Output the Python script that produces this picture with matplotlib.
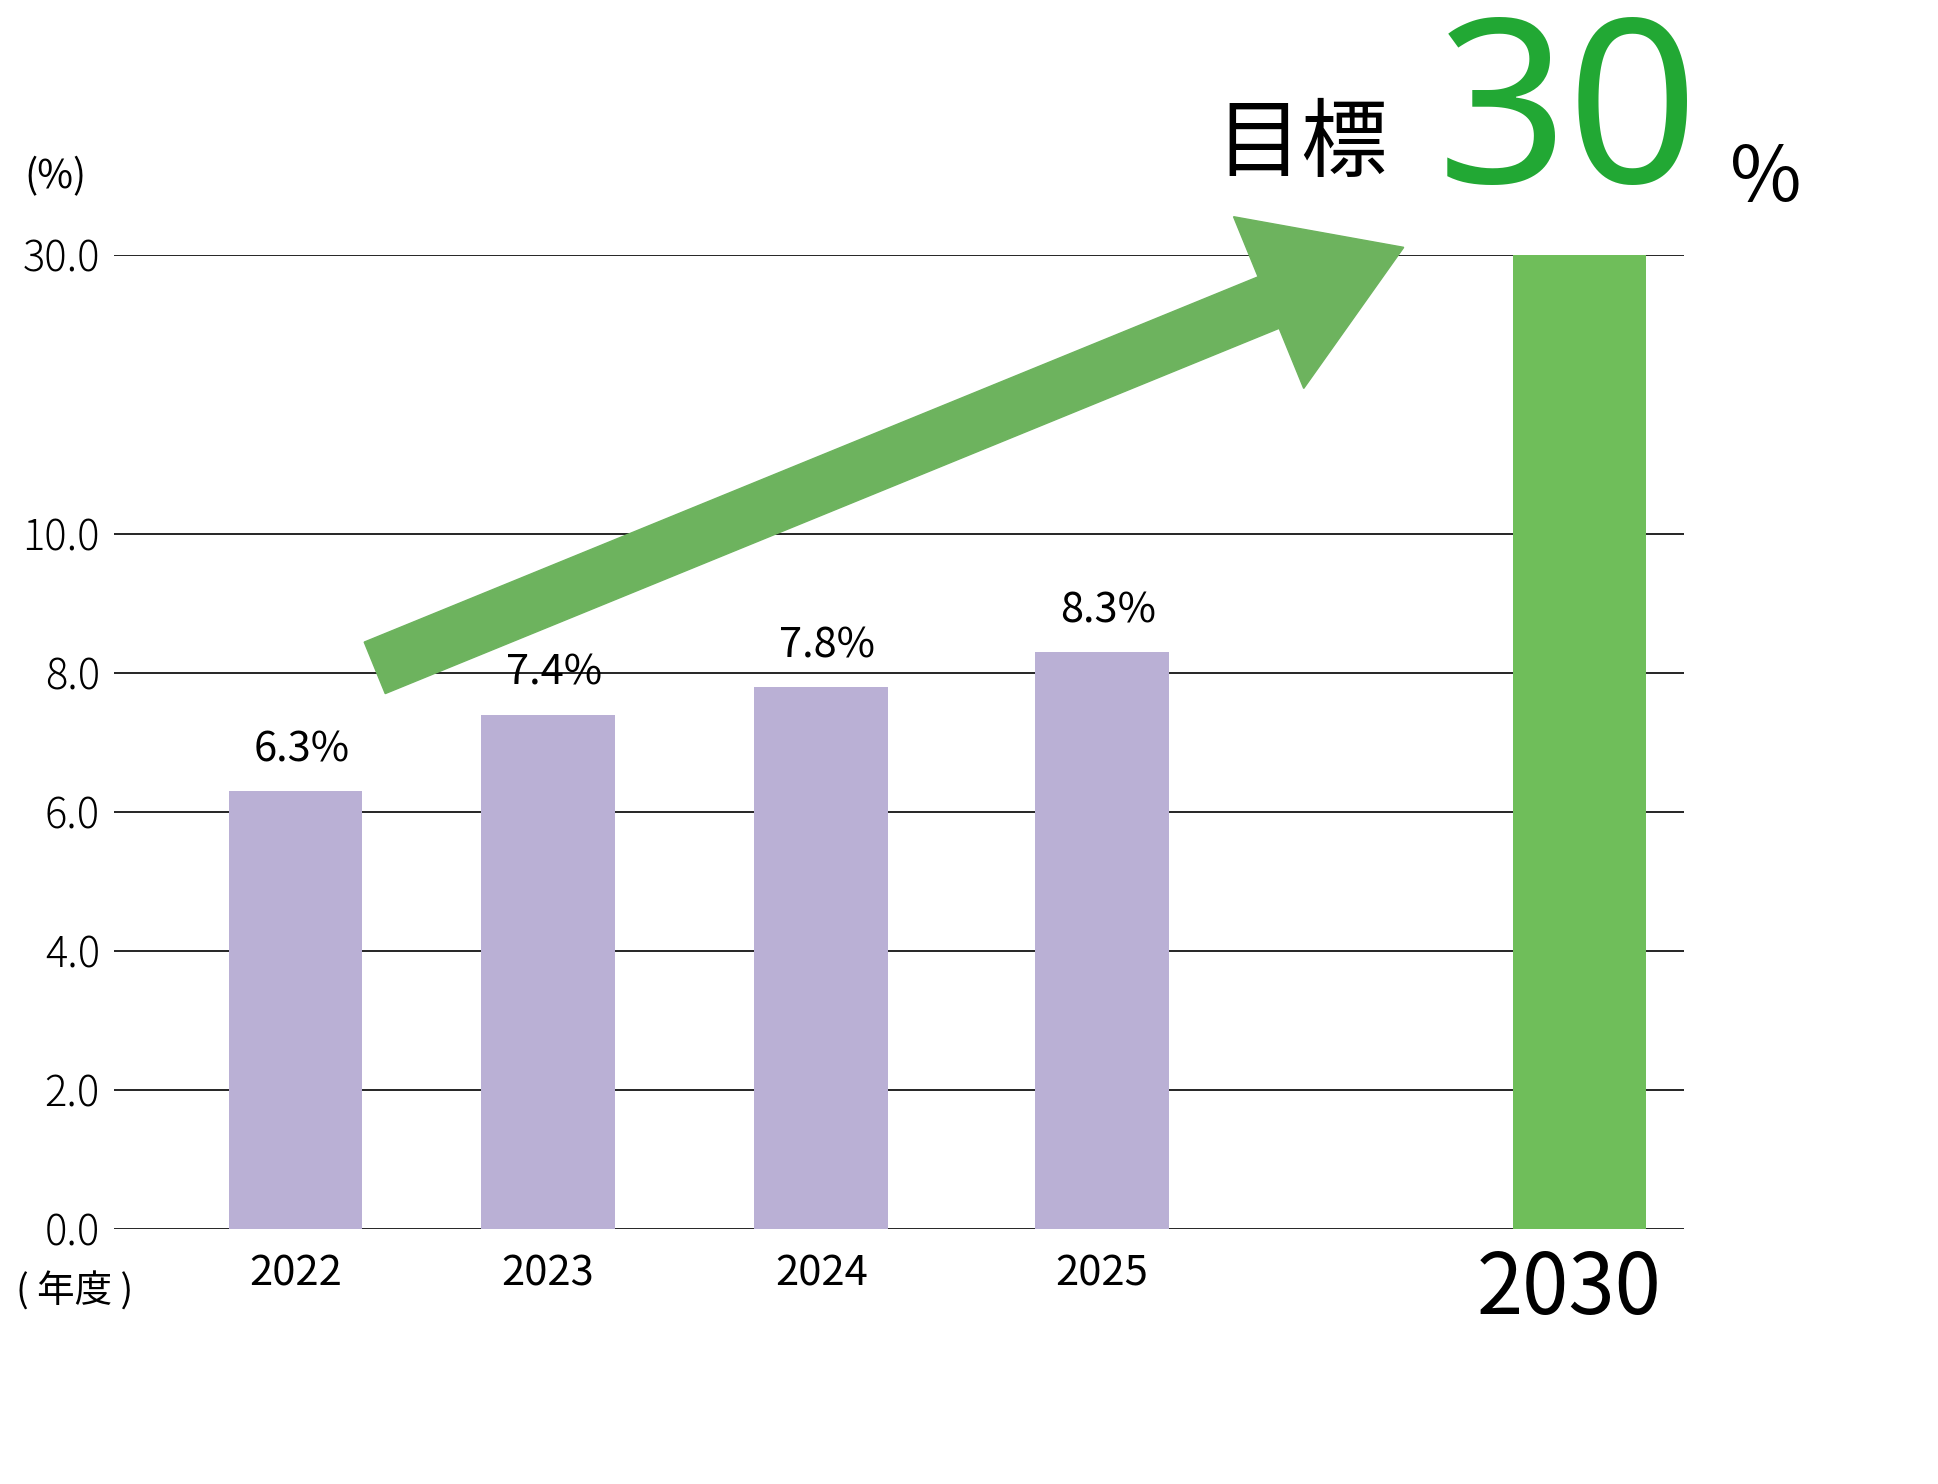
import matplotlib
matplotlib.use("Agg")
import matplotlib.pyplot as plt
import matplotlib.patches as mpatches
from matplotlib.transforms import IdentityTransform

plt.rcParams['font.family'] = ['Noto Sans CJK JP', 'DejaVu Sans']

years = ['2022', '2023', '2024', '2025']
values = [6.3, 7.4, 7.8, 8.3]
labels = ['6.3%', '7.4%', '7.8%', '8.3%']
target_year = '2030'
target_value = 30.0
ticks = [0.0, 2.0, 4.0, 6.0, 8.0, 10.0, 30.0]

RW, RH = 1567, 1200
S = 1938 / RW
W, H = 1938, 1484
def sy(v):  # broken axis: linear to 10, compressed above
    return v if v <= 10 else 10 + (v - 10) * (226 / 56.25) / 20
xpos = [239, 443, 664, 891]
xt = 1277

fig = plt.figure(figsize=(W / 100, H / 100), dpi=100)
ax = fig.add_axes([92 / RW, 1 - 994 / RH, (1362 - 92) / RW, (994 - 206) / RH])
ax.set_xlim(92, 1362)
ax.set_ylim(0, sy(30))
for t in ticks:
    ax.axhline(sy(t), color='black', lw=1.2, zorder=1)
ax.bar(xpos, [sy(v) for v in values], width=108, color='#bab0d5', zorder=2)
ax.bar([xt], [sy(target_value)], width=108, color='#6fbe5a', zorder=2)
for x, v, l in zip(xpos, values, labels):
    ax.text(x + 5, sy(v) + 0.3, l, ha='center', va='bottom', fontsize=30)
for x, y in zip(xpos, years):
    ax.text(x, -0.35, y, ha='center', va='top', fontsize=30)
ax.text(xt - 8, -0.25, target_year, ha='center', va='top', fontsize=60)
ax.set_yticks([sy(t) for t in ticks])
ax.set_yticklabels([f'{t:.1f}' for t in ticks], fontsize=30, fontweight='light')
ax.tick_params(axis='y', length=0, pad=10)
ax.set_xticks([])
for s in ax.spines.values():
    s.set_visible(False)

def fx(px): return px / RW
def fy(py): return 1 - py / RH
fig.text(fx(45), fy(143), '(%)', ha='center', va='center', fontsize=28)
fig.text(fx(60), fy(1045), '( 年度 )', ha='center', va='center', fontsize=27)
fig.text(fx(1052), fy(118), '目標', ha='center', va='center', fontsize=62)
fig.text(fx(1268), fy(100), '30', ha='center', va='center', fontsize=165,
         fontweight='bold', color='#22a834', family=['Noto Sans', 'DejaVu Sans'])
fig.text(fx(1428), fy(145), '%', ha='center', va='center', fontsize=56)

# arrow in pixel coordinates
x0, y0 = 303 * S, H - 540 * S
x1, y1 = 1135 * S, H - 200 * S
arr = mpatches.FancyArrow(x0, y0, x1 - x0, y1 - y0, width=45 * S, head_width=150 * S,
                          head_length=118 * S, length_includes_head=True,
                          color='#6db35e', transform=IdentityTransform(), zorder=5)
fig.patches.append(arr)

fig.savefig('out.png', dpi=100)
